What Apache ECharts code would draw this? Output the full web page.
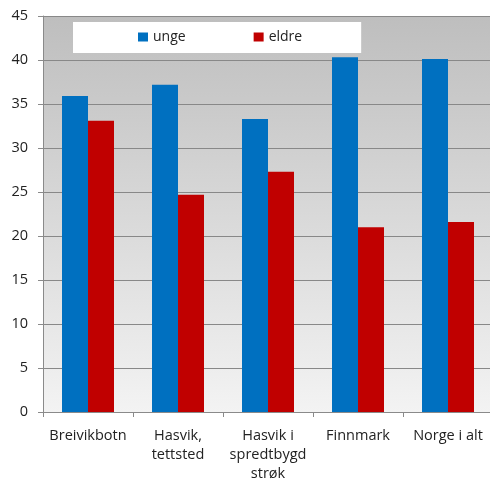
<!DOCTYPE html>
<html><head><meta charset="utf-8">
<script src="https://cdn.jsdelivr.net/npm/echarts@6/dist/echarts.min.js"></script>
<style>html,body{margin:0;padding:0;background:#fff}#c{width:490px;height:482px}</style>
</head><body><div id="c"></div>
<script>
var categories = ['Breivikbotn', 'Hasvik,\ntettsted', 'Hasvik i\nspredtbygd\nstrøk', 'Finnmark', 'Norge i alt'];
var unge = [35.9, 37.2, 33.3, 40.3, 40.1];
var eldre = [33.1, 24.7, 27.3, 21.0, 21.6];
var seriesNames = ['unge', 'eldre'];
var yTicks = {min: 0, max: 45, interval: 5};

var font = 'Open Sans';
var chart = echarts.init(document.getElementById('c'), null, {renderer: 'canvas'});
chart.setOption({
  animation: false,
  grid: {
    left: 43, width: 450, top: 16, height: 396,
    outerBoundsMode: 'none',
    containLabel: false,
    show: true, borderWidth: 0,
    backgroundColor: new echarts.graphic.LinearGradient(0, 0, 0, 1, [
      {offset: 0, color: '#bebebe'}, {offset: 1, color: '#f3f3f3'}
    ])
  },
  legend: {
    data: seriesNames,
    left: 73, top: 22,
    backgroundColor: '#ffffff',
    padding: [8, 59, 9, 65],
    itemGap: 68,
    itemWidth: 10, itemHeight: 9,
    icon: 'rect',
    textStyle: {fontFamily: font, fontSize: 14, color: '#222'}
  },
  xAxis: {
    type: 'category', data: categories,
    axisLine: {lineStyle: {color: '#8a8a8a'}},
    axisTick: {show: true, length: 5, lineStyle: {color: '#8a8a8a'}},
    axisLabel: {fontFamily: font, fontSize: 14.5, color: '#222', margin: 14, lineHeight: 19, interval: 0}
  },
  yAxis: {
    type: 'value', min: yTicks.min, max: yTicks.max, interval: yTicks.interval,
    axisLine: {show: true, lineStyle: {color: '#8a8a8a'}},
    axisTick: {show: true, length: 5, lineStyle: {color: '#8a8a8a'}},
    splitLine: {lineStyle: {color: '#888888', width: 1}},
    axisLabel: {fontFamily: font, fontSize: 14.5, color: '#222', margin: 15}
  },
  series: [
    {name: seriesNames[0], type: 'bar', data: unge, barWidth: 26, barGap: '0%',
     itemStyle: {color: '#0070c0'}},
    {name: seriesNames[1], type: 'bar', data: eldre, barWidth: 26, barGap: '0%',
     itemStyle: {color: '#c00000'}}
  ]
});
</script></body></html>
